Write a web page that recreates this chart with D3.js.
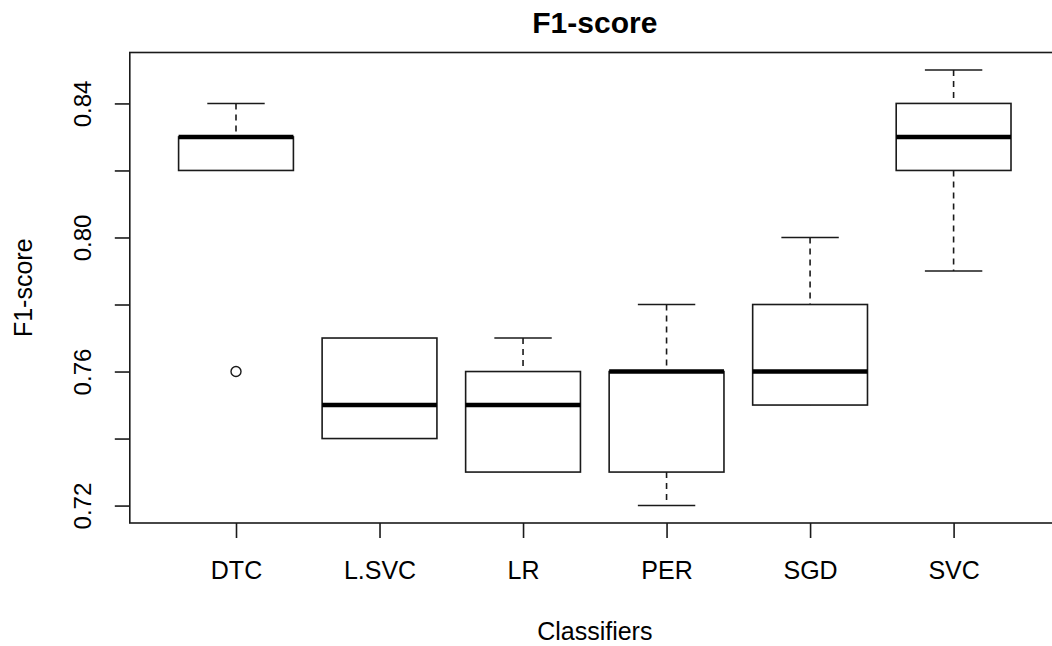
<!DOCTYPE html>
<html>
<head>
<meta charset="utf-8">
<script src="https://cdn.jsdelivr.net/npm/d3@7"></script>
<style>
  html, body { margin: 0; padding: 0; background: #ffffff; }
  svg { display: block; }
  text { font-family: "Liberation Sans", Arial, sans-serif; fill: #000; }
</style>
</head>
<body>
<svg id="chart" width="1052" height="646"></svg>
<script>
// Box-plot summaries of F1-score per classifier
const categories   = ["DTC", "L.SVC", "LR", "PER", "SGD", "SVC"];
const lowerWhisker = [0.82, 0.74, 0.73, 0.72, 0.75, 0.79];
const q1           = [0.82, 0.74, 0.73, 0.73, 0.75, 0.82];
const median       = [0.83, 0.75, 0.75, 0.76, 0.76, 0.83];
const q3           = [0.83, 0.77, 0.76, 0.76, 0.78, 0.84];
const upperWhisker = [0.84, 0.77, 0.77, 0.78, 0.80, 0.85];
const outliers     = [[0.76], [], [], [], [], []];
const yTicks       = [0.72, 0.74, 0.76, 0.78, 0.80, 0.82, 0.84];
const yTickLabels  = ["0.72", "", "0.76", "", "0.80", "", "0.84"];

const chartTitle = "F1-score";
const xTitle = "Classifiers";
const yTitle = "F1-score";

const svg = d3.select("#chart");

const plot = { left: 129.8, right: 1059.8, top: 52.5, bottom: 523 };

// Category positions 1..n, padded like a base-graphics boxplot
const n = categories.length;
const pad = (n - 0.5 - 0.5 + 1) * 0.04;
const x = d3.scaleLinear()
  .domain([0.5 - pad, n + 0.5 + pad])
  .range([plot.left, plot.right]);

const yMin = 0.72, yMax = 0.85;
const yPad = (yMax - yMin) * 0.04;
const y = d3.scaleLinear()
  .domain([yMin - yPad, yMax + yPad])
  .range([plot.bottom, plot.top]);

const unit = x(2) - x(1);
const boxW = unit * 0.8;
const capW = boxW * 0.5;

const stroke = "#1a1a1a";
const lw = 1.6;

const data = categories.map((c, i) => ({
  name: c, pos: i + 1,
  lo: lowerWhisker[i], q1: q1[i], med: median[i], q3: q3[i], hi: upperWhisker[i],
  out: outliers[i]
}));

const g = svg.append("g");

const box = g.selectAll("g.box").data(data).join("g").attr("class", "box");

// whiskers (dashed)
box.append("line")
  .attr("x1", d => x(d.pos)).attr("x2", d => x(d.pos))
  .attr("y1", d => y(d.hi)).attr("y2", d => y(d.q3))
  .attr("stroke", stroke).attr("stroke-width", lw)
  .attr("stroke-dasharray", "6,5");
box.append("line")
  .attr("x1", d => x(d.pos)).attr("x2", d => x(d.pos))
  .attr("y1", d => y(d.q1)).attr("y2", d => y(d.lo))
  .attr("stroke", stroke).attr("stroke-width", lw)
  .attr("stroke-dasharray", "6,5");

// whisker caps (only where the whisker extends past the box)
box.filter(d => d.hi > d.q3).append("line")
  .attr("x1", d => x(d.pos) - capW / 2).attr("x2", d => x(d.pos) + capW / 2)
  .attr("y1", d => y(d.hi)).attr("y2", d => y(d.hi))
  .attr("stroke", stroke).attr("stroke-width", lw);
box.filter(d => d.lo < d.q1).append("line")
  .attr("x1", d => x(d.pos) - capW / 2).attr("x2", d => x(d.pos) + capW / 2)
  .attr("y1", d => y(d.lo)).attr("y2", d => y(d.lo))
  .attr("stroke", stroke).attr("stroke-width", lw);

// boxes
box.append("rect")
  .attr("x", d => x(d.pos) - boxW / 2)
  .attr("width", boxW)
  .attr("y", d => y(d.q3))
  .attr("height", d => y(d.q1) - y(d.q3))
  .attr("fill", "#fff")
  .attr("stroke", stroke).attr("stroke-width", lw);

// medians
box.append("line")
  .attr("x1", d => x(d.pos) - boxW / 2).attr("x2", d => x(d.pos) + boxW / 2)
  .attr("y1", d => y(d.med)).attr("y2", d => y(d.med))
  .attr("stroke", "#000").attr("stroke-width", 4.5);

// outliers
box.selectAll("circle").data(d => d.out.map(v => ({ pos: d.pos, v })))
  .join("circle")
  .attr("cx", d => x(d.pos)).attr("cy", d => y(d.v))
  .attr("r", 5)
  .attr("fill", "none").attr("stroke", stroke).attr("stroke-width", 1.4);

// plot frame
svg.append("rect")
  .attr("x", plot.left).attr("y", plot.top)
  .attr("width", plot.right - plot.left).attr("height", plot.bottom - plot.top)
  .attr("fill", "none").attr("stroke", stroke).attr("stroke-width", lw);

// y axis
const yAxis = svg.append("g")
  .attr("transform", `translate(${plot.left},0)`)
  .call(d3.axisLeft(y).tickValues(yTicks).tickSize(15)
    .tickFormat((d, i) => yTickLabels[i]));
yAxis.select(".domain").remove();
yAxis.selectAll(".tick line").attr("stroke", stroke).attr("stroke-width", lw);
yAxis.selectAll(".tick text")
  .attr("transform", "rotate(-90)")
  .attr("x", 0).attr("y", -(plot.left - 90.5)).attr("dy", 0)
  .attr("text-anchor", "middle")
  .style("font-size", "24px")
  .style("font-family", "'Liberation Sans', Arial, sans-serif")
  .attr("fill", "#000");

// x axis
const xAxis = svg.append("g")
  .attr("transform", `translate(0,${plot.bottom})`)
  .call(d3.axisBottom(x).tickValues(d3.range(1, n + 1)).tickSize(15)
    .tickFormat(d => categories[d - 1]));
xAxis.select(".domain").remove();
xAxis.selectAll(".tick line").attr("stroke", stroke).attr("stroke-width", lw);
xAxis.selectAll(".tick text")
  .attr("y", 579 - plot.bottom).attr("dy", 0)
  .style("font-size", "25px")
  .style("font-family", "'Liberation Sans', Arial, sans-serif")
  .attr("fill", "#000");

const cx = (plot.left + plot.right) / 2;
const cy = (plot.top + plot.bottom) / 2;

// titles
svg.append("text")
  .attr("x", cx).attr("y", 33)
  .attr("text-anchor", "middle")
  .style("font-size", "30px").style("font-weight", "bold")
  .text(chartTitle);

svg.append("text")
  .attr("x", cx).attr("y", 640)
  .attr("text-anchor", "middle")
  .style("font-size", "25px")
  .text(xTitle);

svg.append("text")
  .attr("transform", `translate(32,${cy}) rotate(-90)`)
  .attr("text-anchor", "middle")
  .style("font-size", "25px")
  .text(yTitle);
</script>
</body>
</html>
